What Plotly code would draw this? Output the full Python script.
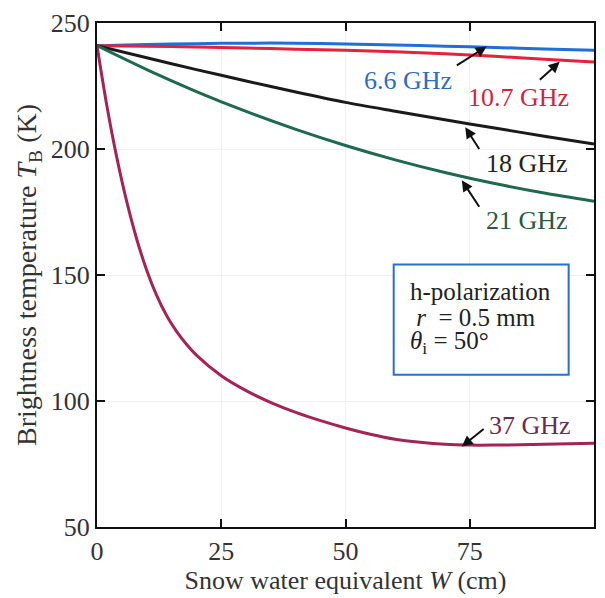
import plotly.graph_objects as go

# Snow water equivalent W (cm)
w_smooth = [0, 10, 20, 30, 40, 50, 60, 70, 80, 90, 100]
tb_66 = [241, 241.5, 241.8, 242, 242, 241.7, 241.3, 240.8, 240.3, 239.7, 239.2]
tb_107 = [241, 240.8, 240.5, 240.1, 239.6, 239.2, 238.6, 237.8, 236.8, 235.6, 234.5]
tb_18 = [241, 236.2, 231.5, 227, 222.6, 218.5, 215, 211.6, 208.3, 205.1, 202]
tb_21 = [241, 231.5, 222.8, 214.9, 207.8, 201.4, 195.7, 190.7, 186.3, 182.5, 179.3]

w_37 = [0, 2, 4, 6, 8, 10, 12, 14, 16, 18, 20, 25, 30, 35, 40, 45,
        50, 55, 60, 65, 70, 75, 80, 85, 90, 95, 100]
tb_37 = [241, 217, 196.5, 179, 164.2, 151.9, 141.9, 133.9, 127.6, 122.5, 118.2,
         110, 104.1, 99.4, 95.5, 92.2, 89.3, 86.8, 84.8, 83.6, 82.8,
         82.5, 82.5, 82.6, 82.8, 83, 83.2]

labels = ["6.6 GHz", "10.7 GHz", "18 GHz", "21 GHz", "37 GHz"]
line_colors = ["#1f6fd6", "#e5213c", "#1a1a1a", "#1e6a4c", "#a52457"]
text_colors = ["#2f6cc0", "#d4243a", "#222222", "#2a5a40", "#6e2c4c"]

x_ticks = [0, 25, 50, 75, 100]
y_ticks = [50, 100, 150, 200, 250]

box_lines = ["h-polarization", " <i>r</i>  = 0.5 mm", "<i>θ</i><sub>i</sub> = 50°"]

FONT = "Liberation Serif"
FS = 26

fig = go.Figure()
series = [(w_smooth, tb_66), (w_smooth, tb_107), (w_smooth, tb_18),
          (w_smooth, tb_21), (w_37, tb_37)]
for (xs, ys), name, col in zip(series, labels, line_colors):
    fig.add_trace(go.Scatter(x=xs, y=ys, mode="lines", name=name,
                             line=dict(color=col, width=3, shape="spline", smoothing=0.8),
                             showlegend=False))

# label text positions and arrow (head, tail) positions in data coords
text_pos = [(62.5, 227.2), (84.8, 220.5), (86.6, 194.2), (86.6, 171.8), (87.1, 90.1)]
arrow_head = [(78.4, 240.7), (93.1, 234.6), (74.1, 208.6), (73.4, 187.6), (73.4, 81.9)]
arrow_tail = [(72.1, 232.8), (88.8, 226.9), (77.1, 199.4), (77.1, 176.5), (78.1, 89.4)]

for lab, tc, tp, ah, at in zip(labels, text_colors, text_pos, arrow_head, arrow_tail):
    fig.add_annotation(x=tp[0], y=tp[1], text=lab, showarrow=False,
                       font=dict(family=FONT, size=FS, color=tc))
    fig.add_annotation(x=ah[0], y=ah[1], ax=at[0], ay=at[1], axref="x", ayref="y",
                       xref="x", yref="y", text="", showarrow=True,
                       arrowhead=2, arrowsize=1.1, arrowwidth=2, arrowcolor="#111111")

# info box
fig.add_shape(type="rect", x0=59.7, x1=94.9, y0=110.4, y1=154.2,
              line=dict(color="#2a6fd0", width=2), fillcolor="white")
for txt, yy in zip(box_lines, [143.6, 133.2, 123.4]):
    fig.add_annotation(x=62.5, y=yy, xanchor="left", yanchor="middle",
                       text=txt, showarrow=False, align="left",
                       font=dict(family=FONT, size=25, color="#222222"))

fig.update_xaxes(range=[0, 100], tickvals=x_ticks, ticks="inside", ticklen=8,
                 tickwidth=2, tickcolor="#111", mirror="ticks", showline=True,
                 linecolor="#111", linewidth=2, showgrid=True, gridcolor="#f0f0f0",
                 zeroline=False,
                 tickfont=dict(family=FONT, size=FS, color="#333"),
                 title=dict(text="Snow water equivalent <i>W</i> (cm)",
                            font=dict(family=FONT, size=FS, color="#333"), standoff=4))
fig.update_yaxes(range=[50, 250], tickvals=y_ticks, ticks="inside", ticklen=8,
                 tickwidth=2, tickcolor="#111", mirror="ticks", showline=True,
                 linecolor="#111", linewidth=2, showgrid=True, gridcolor="#f0f0f0",
                 zeroline=False,
                 tickfont=dict(family=FONT, size=FS, color="#333"),
                 title=dict(text="Brightness temperature <i>T</i><sub>B</sub> (K)",
                            font=dict(family=FONT, size=28, color="#333"), standoff=6))

fig.update_layout(width=605, height=598, margin=dict(l=97, r=9, t=18, b=71),
                  plot_bgcolor="white", paper_bgcolor="white")

fig.write_html("out.html")
